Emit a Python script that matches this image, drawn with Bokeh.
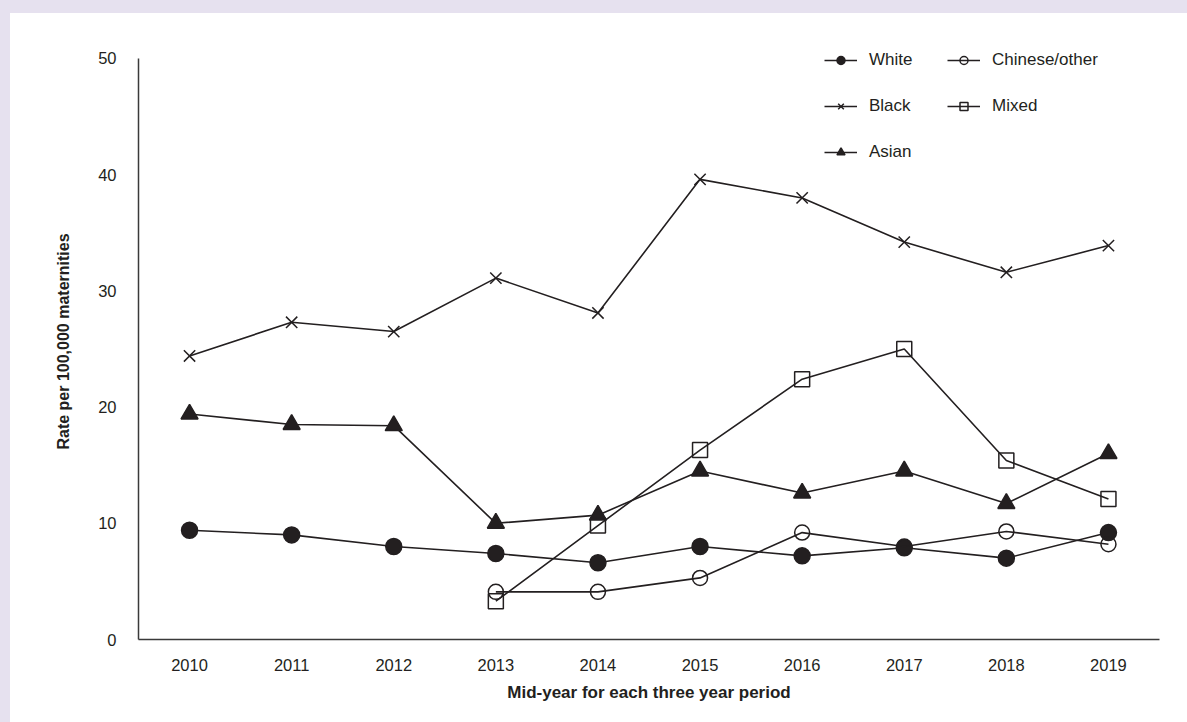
from bokeh.plotting import figure
from bokeh.models import FactorRange, Range1d, SingleIntervalTicker, Legend, LegendItem, Spacer
from bokeh.layouts import column, row
from bokeh.embed import file_html
from bokeh.resources import INLINE

# Mid-year of each three-year period
years = ["2010", "2011", "2012", "2013", "2014", "2015", "2016", "2017", "2018", "2019"]

# Rate per 100,000 maternities by ethnic group
white = [9.4, 9.0, 8.0, 7.4, 6.6, 8.0, 7.2, 7.9, 7.0, 9.2]
black = [24.4, 27.3, 26.5, 31.1, 28.1, 39.6, 38.0, 34.2, 31.6, 33.9]
asian = [19.4, 18.5, 18.4, 10.0, 10.7, 14.5, 12.6, 14.5, 11.7, 16.0]
chinese_other = [None, None, None, 4.1, 4.1, 5.3, 9.2, 8.0, 9.3, 8.2]
mixed = [None, None, None, 3.3, 9.8, 16.3, 22.4, 25.0, 15.4, 12.1]

y_ticks_interval = 10
y_axis_max = 50

INK = "#231f20"
AXIS = "#3a3a3a"
FRAME = "#e6e1ef"
FONT = "Liberation Sans"

# a little headroom above the axis so the legend has room to sit
p = figure(
    width=1177, height=709,
    x_range=FactorRange(*years, range_padding=0),
    y_range=Range1d(0, y_axis_max + 1.29),
    output_backend="svg", toolbar_location=None,
    min_border_left=128, min_border_right=28,
    min_border_top=30, min_border_bottom=83,
    background_fill_color="white", border_fill_color="white",
)
p.outline_line_color = None
p.xgrid.visible = False
p.ygrid.visible = False

for ax in (p.xaxis[0], p.yaxis[0]):
    ax.axis_line_color = AXIS
    ax.axis_line_width = 1.5
    ax.major_tick_line_color = None
    ax.minor_tick_line_color = None
    ax.major_label_text_font = FONT
    ax.major_label_text_font_size = "16.5px"
    ax.major_label_text_color = INK
    ax.axis_label_text_font = FONT
    ax.axis_label_text_font_style = "bold"
    ax.axis_label_text_color = INK

p.yaxis.ticker = SingleIntervalTicker(interval=y_ticks_interval)
p.yaxis.bounds = (0, y_axis_max)
p.yaxis.major_label_standoff = 16
p.yaxis.axis_label = "Rate per 100,000 maternities"
p.yaxis.axis_label_text_font_size = "16px"
p.yaxis.axis_label_standoff = 23
p.xaxis.major_label_standoff = 13
p.xaxis.axis_label = "Mid-year for each three year period"
p.xaxis.axis_label_text_font_size = "17px"
p.xaxis.axis_label_standoff = 9

series = [
    ("White", white, "circle", 16, True),
    ("Black", black, "x", 16, False),
    ("Asian", asian, "triangle", 17, True),
    ("Chinese/other", chinese_other, "circle", 15, False),
    ("Mixed", mixed, "square", 15, False),
]

items = {}
for name, vals, marker, size, filled in series:
    xs = [yr for yr, v in zip(years, vals) if v is not None]
    ys = [v for v in vals if v is not None]
    r_line = p.line(xs, ys, line_color=INK, line_width=1.6)
    r_mark = p.scatter(
        xs, ys, marker=marker, size=size,
        line_color=INK, line_width=1.5,
        fill_color=INK if filled else None,
    )
    items[name] = LegendItem(label=name, renderers=[r_line, r_mark])


def make_legend(names, loc):
    return Legend(
        items=[items[n] for n in names], location=loc, orientation="vertical",
        padding=0, margin=0, spacing=26,
        glyph_width=33, glyph_height=20, label_height=20, label_standoff=12,
        label_text_font=FONT, label_text_font_size="17px", label_text_color=INK,
        border_line_color=None, background_fill_alpha=0,
    )


p.add_layout(make_legend(["White", "Black", "Asian"], (686, 477)))
p.add_layout(make_legend(["Chinese/other", "Mixed"], (809, 523)))

top = Spacer(width=1187, height=13, styles={"background-color": FRAME})
left = Spacer(width=10, height=709, styles={"background-color": FRAME})
layout = column(top, row(left, p))

open("out.html", "w").write(file_html(layout, INLINE))
